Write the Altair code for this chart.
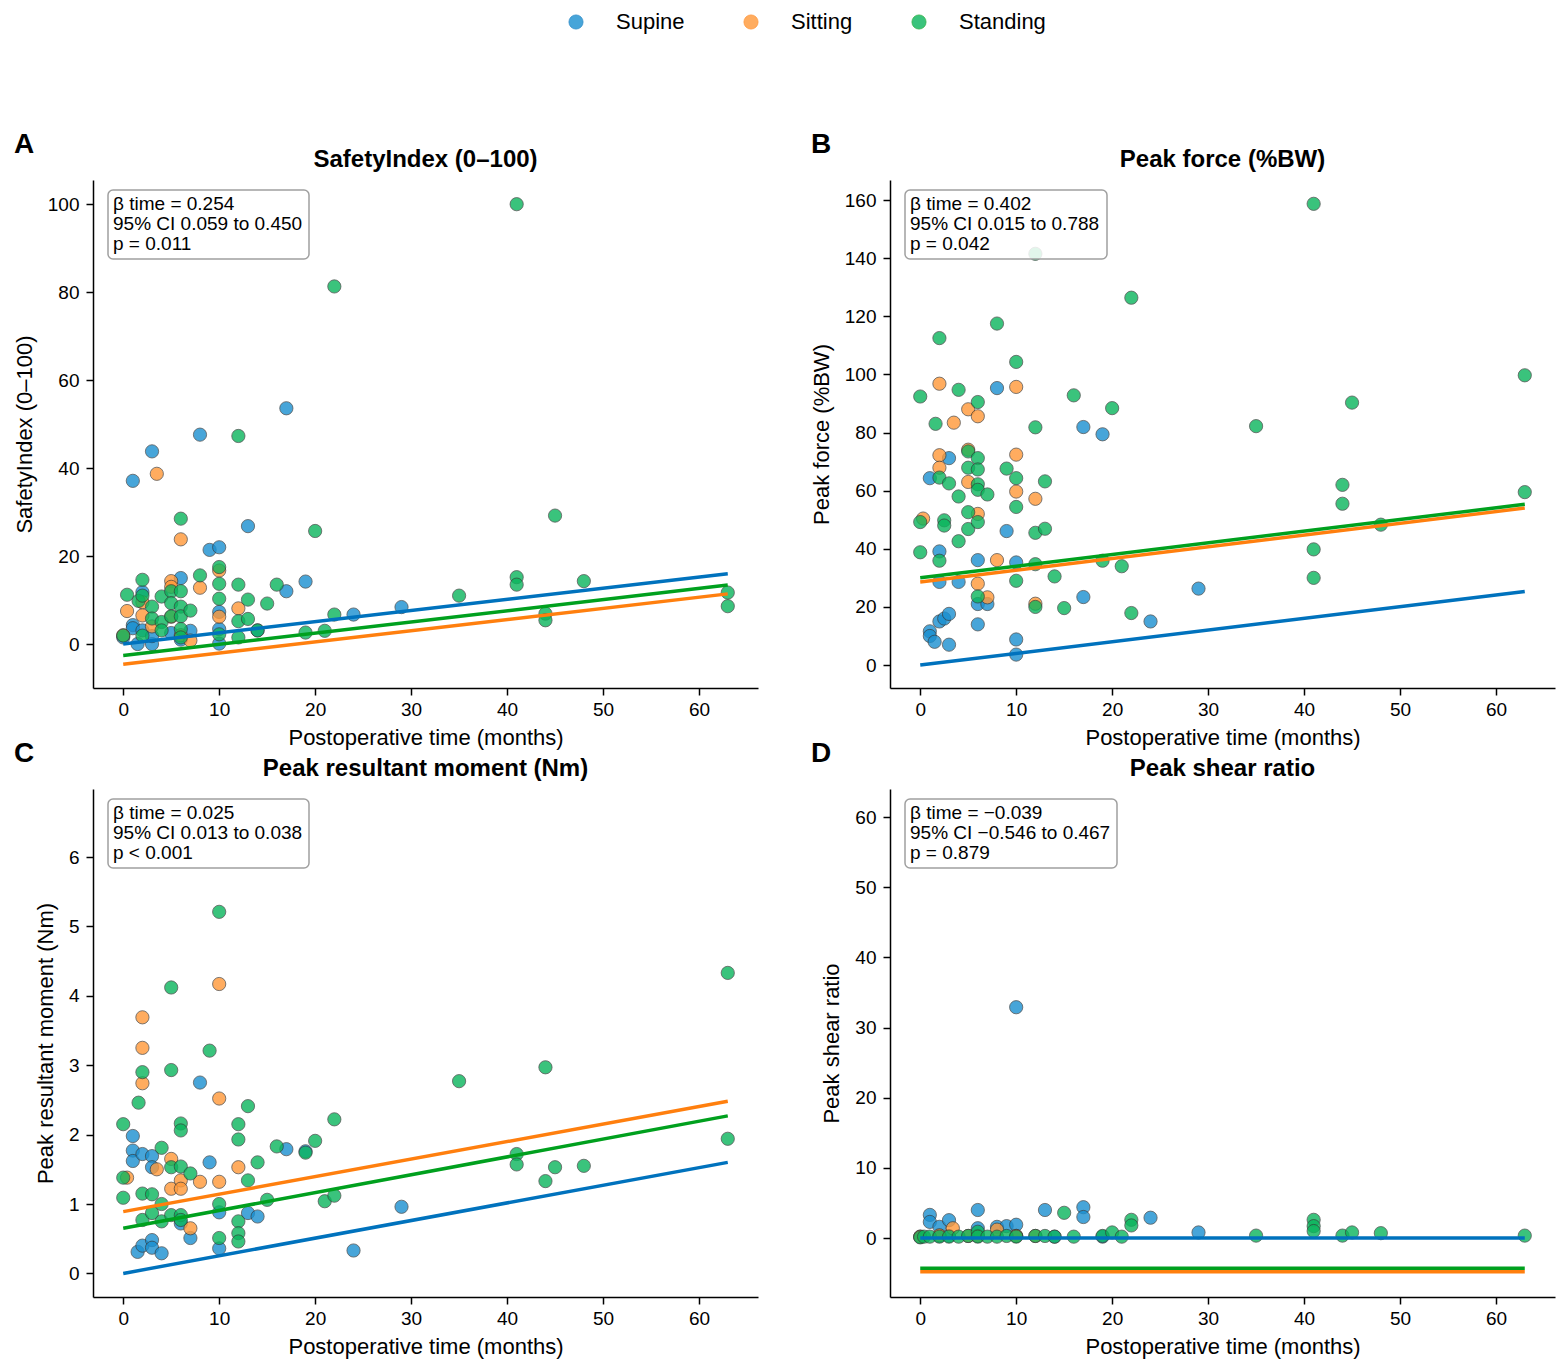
import altair as alt
import pandas as pd

FONT = "Liberation Sans"
POSTURES = ["Supine", "Sitting", "Standing"]
FILL_COLORS = ["#1a8fd0", "#ff9838", "#0ab55c"]
LINE_COLORS = ["#0072bd", "#ff7f0e", "#00a01e"]
FIT_MONTHS = [0, 63]
MONTH_TICKS = [0, 10, 20, 30, 40, 50, 60]

# --- A: SafetyIndex (0-100), (months, value)
SI_SUPINE = [(0, 1.5), (1, 37.1), (1, 4.3), (1, 3.6), (1.5, 0.0), (2, 11.8), (2, 3.1),
             (3, 43.8), (3, 0.0), (3, 1.8), (5, 2.5), (6, 15.0), (6, 1.0), (7, 3.0),
             (8, 47.6), (9, 21.4), (10, 22.0), (10, 7.3), (10, 3.4), (10, 0.1),
             (13, 26.8), (14, 3.1), (17, 53.6), (17, 12.0), (19, 14.2), (24, 6.7), (29, 8.4)]
SI_SITTING = [(0, 2.0), (0.4, 7.5), (2, 9.5), (2, 6.5), (3, 4.0), (3.5, 38.7), (5, 14.3),
              (5, 13.0), (5, 6.2), (6, 23.8), (6, 2.0), (7, 0.8), (8, 12.8), (10, 16.7),
              (10, 6.2), (12, 8.1)]
SI_STANDING = [(0, 1.9), (0.4, 11.2), (1.6, 9.8), (2, 14.6), (2, 11.0), (2, 1.9), (3, 8.5),
               (3, 5.8), (4, 10.8), (4, 5.0), (4, 3.1), (5, 12.0), (5, 9.3), (5, 6.3),
               (6, 28.5), (6, 12.0), (6, 8.5), (6, 6.3), (6, 3.4), (6, 1.5), (7, 7.6),
               (8, 15.6), (10, 17.5), (10, 13.7), (10, 10.3), (10, 2.2), (12, 47.3),
               (12, 13.5), (12, 5.2), (12, 1.5), (13, 10.1), (13, 5.7), (14, 3.1), (15, 9.2),
               (16, 13.5), (19, 2.6), (20, 25.7), (21, 3.0), (22, 81.3), (22, 6.7), (35, 11.0),
               (41, 100.0), (41, 15.2), (41, 13.5), (44, 6.9), (44, 5.4), (45, 29.2),
               (48, 14.3), (63, 11.7), (63, 8.6)]
SI_FIT_START = [0.0, -4.6, -2.6]
SI_FIT_END = [16.0, 11.4, 13.4]
SI_STATS = ["β time = 0.254", "95% CI 0.059 to 0.450", "p = 0.011"]

# --- B: Peak force (%BW)
PF_SUPINE = [(1, 64.3), (1, 11.6), (1, 10.0), (1.5, 8.0), (2, 39.1), (2, 28.6), (2, 15.0),
             (2.5, 16.0), (3, 71.2), (3, 17.6), (3, 7.0), (4, 28.6), (6, 36.1), (6, 21.0),
             (6, 14.0), (7, 21.0), (8, 95.3), (9, 46.1), (10, 35.3), (10, 8.8), (10, 3.6),
             (17, 81.9), (17, 23.4), (19, 79.4), (24, 15.0), (29, 26.3)]
PF_SITTING = [(0.3, 50.4), (2, 96.8), (2, 72.2), (2, 67.9), (3.5, 83.4), (5, 88.0), (5, 74.1),
              (5, 63.0), (6, 85.6), (6, 52.0), (6, 28.0), (7, 23.3), (8, 36.1), (10, 95.7),
              (10, 72.4), (10, 59.7), (12, 57.2), (12, 21.1)]
PF_STANDING = [(0, 92.4), (0, 49.2), (0, 38.8), (1.6, 83.0), (2, 112.5), (2, 64.5), (2, 35.9),
               (2.5, 49.8), (2.5, 48.0), (3, 62.5), (4, 94.7), (4, 58.0), (4, 42.6), (5, 73.5),
               (5, 67.9), (5, 52.6), (5, 46.8), (6, 90.5), (6, 71.2), (6, 67.3), (6, 62.2),
               (6, 60.3), (6, 49.2), (6, 23.6), (7, 58.7), (8, 117.5), (9, 67.6), (10, 104.3),
               (10, 64.3), (10, 54.4), (10, 29.0), (12, 141.5), (12, 81.8), (12, 45.5),
               (12, 34.7), (12, 20.0), (13, 63.2), (13, 46.9), (14, 30.5), (15, 19.6),
               (16, 92.8), (19, 35.9), (20, 88.4), (21, 34.0), (22, 126.4), (22, 17.9),
               (35, 82.2), (41, 158.7), (41, 39.8), (41, 30.0), (44, 62.0), (44, 55.5),
               (45, 90.3), (48, 48.3), (63, 99.7), (63, 59.5)]
PF_FIT_START = [0.0, 28.6, 30.0]
PF_FIT_END = [25.3, 54.0, 55.3]
PF_STATS = ["β time = 0.402", "95% CI 0.015 to 0.788", "p = 0.042"]

# --- C: Peak resultant moment (Nm)
RM_SUPINE = [(1, 1.98), (1, 1.77), (1, 1.62), (1.5, 0.31), (2, 1.72), (2, 0.40), (3, 1.69),
             (3, 1.53), (3, 0.48), (3, 0.37), (4, 0.29), (6, 0.72), (7, 0.51), (8, 2.75),
             (9, 1.60), (10, 0.88), (10, 0.36), (13, 0.87), (14, 0.82), (17, 1.79),
             (19, 1.76), (24, 0.33), (29, 0.96)]
RM_SITTING = [(0.4, 1.38), (2, 3.69), (2, 3.25), (2, 2.74), (3.5, 1.50), (5, 1.65), (5, 1.22),
              (6, 1.34), (6, 1.22), (7, 0.65), (8, 1.32), (10, 4.17), (10, 2.52), (10, 1.32),
              (12, 1.53)]
RM_STANDING = [(0, 2.15), (0, 1.38), (0, 1.09), (1.6, 2.46), (2, 2.90), (2, 1.15), (2, 0.77),
               (3, 1.14), (3, 0.87), (4, 1.81), (4, 1.00), (4, 0.75), (5, 4.12), (5, 2.93),
               (5, 1.53), (5, 0.84), (6, 2.16), (6, 2.06), (6, 1.54), (6, 0.84), (6, 0.77),
               (7, 1.44), (9, 3.21), (10, 5.21), (10, 1.00), (10, 0.51), (12, 2.15),
               (12, 1.93), (12, 0.75), (12, 0.58), (12, 0.46), (13, 2.41), (13, 1.34),
               (14, 1.60), (15, 1.06), (16, 1.83), (19, 1.74), (20, 1.91), (21, 1.04),
               (22, 2.22), (22, 1.12), (35, 2.77), (41, 1.72), (41, 1.57), (44, 2.97),
               (44, 1.33), (45, 1.53), (48, 1.55), (63, 4.33), (63, 1.94)]
RM_FIT_START = [0.0, 0.89, 0.65]
RM_FIT_END = [1.60, 2.48, 2.27]
RM_STATS = ["β time = 0.025", "95% CI 0.013 to 0.038", "p < 0.001"]

# --- D: Peak shear ratio
SR_SUPINE = [(0, 0.2), (1, 3.3), (1, 2.3), (2, 1.6), (2, 0.3), (3, 2.55), (3, 0.3), (6, 4.0),
             (6, 1.4), (6, 0.3), (8, 1.6), (9, 1.7), (10, 32.9), (10, 1.9), (10, 0.3),
             (13, 4.0), (14, 0.2), (17, 4.4), (17, 3.0), (19, 0.2), (24, 2.9), (29, 0.8)]
SR_SITTING = [(0, 0.2), (2, 0.4), (3.4, 1.4), (5, 0.3), (6, 0.3), (8, 1.2), (10, 0.3), (12, 0.3)]
SR_STANDING = [(0, 0.1), (0.4, 0.2), (1, 0.2), (2, 0.2), (3, 0.2), (4, 0.2), (5, 0.3), (6, 0.9),
               (6, 0.2), (7, 0.2), (8, 0.2), (9, 0.3), (10, 0.2), (12, 0.3), (13, 0.3),
               (14, 0.2), (15, 3.6), (16, 0.2), (19, 0.3), (20, 0.8), (21, 0.2), (22, 2.6),
               (22, 1.8), (35, 0.35), (41, 2.6), (41, 1.7), (41, 1.0), (44, 0.35), (45, 0.8),
               (48, 0.7), (63, 0.35)]
SR_FIT_START = [0.0, -4.8, -4.3]
SR_FIT_END = [0.0, -4.8, -4.3]
SR_STATS = ["β time = −0.039", "95% CI −0.546 to 0.467", "p = 0.879"]

W, H = 665, 508


def points_frame(*series):
    rows = []
    for posture, pts in zip(POSTURES, series):
        rows += [{"t": t, "v": v, "posture": posture} for t, v in pts]
    return pd.DataFrame(rows)


def fit_frame(start, end):
    rows = []
    for posture, a, b in zip(POSTURES, start, end):
        rows.append({"t": FIT_MONTHS[0], "v": a, "posture": posture})
        rows.append({"t": FIT_MONTHS[1], "v": b, "posture": posture})
    return pd.DataFrame(rows)


def panel(letter, title, ytitle, pts, fits, ydomain, yticks, stats, box_w):
    x = alt.X("t:Q", scale=alt.Scale(domain=[-3.15, 66.15], nice=False, zero=False),
              axis=alt.Axis(values=MONTH_TICKS, title="Postoperative time (months)"))
    y = alt.Y("v:Q", scale=alt.Scale(domain=ydomain, nice=False, zero=False),
              axis=alt.Axis(values=yticks, title=ytitle))
    dots = alt.Chart(pts).mark_circle(size=175, opacity=0.8, stroke="#333333", strokeWidth=0.8).encode(
        x=x, y=y,
        fill=alt.Fill("posture:N", scale=alt.Scale(domain=POSTURES, range=FILL_COLORS),
                      legend=alt.Legend(title=None, orient="none", legendX=472, legendY=-169,
                                        direction="horizontal", columns=3, symbolType="circle",
                                        symbolSize=200, symbolOpacity=0.8, symbolStrokeColor="#333333",
                                        symbolStrokeWidth=0.8, labelFontSize=22, labelOffset=29,
                                        columnPadding=55, labelFont=FONT)),
    )
    lines = alt.Chart(fits).mark_line(strokeWidth=3.5).encode(
        x=x, y=y,
        stroke=alt.Stroke("posture:N", scale=alt.Scale(domain=POSTURES, range=LINE_COLORS), legend=None),
    )
    one = pd.DataFrame({"k": [0]})
    box = alt.Chart(one).mark_rect(fill="white", fillOpacity=0.85, stroke="#a0a0a0", strokeWidth=1.5,
                                   cornerRadius=5).encode(
        x=alt.value(15), x2=alt.value(15 + box_w), y=alt.value(10), y2=alt.value(79))
    note = alt.Chart(one).mark_text(align="left", baseline="middle", fontSize=19, lineHeight=20,
                                    lineBreak="\n").encode(
        x=alt.value(20), y=alt.value(24), text=alt.value("\n".join(stats)))
    head = alt.Chart(one).mark_text(align="left", baseline="middle", fontSize=28, fontWeight="bold").encode(
        x=alt.value(-79), y=alt.value(-35), text=alt.value(letter))
    name = alt.Chart(one).mark_text(align="center", baseline="middle", fontSize=24, fontWeight="bold").encode(
        x=alt.value(W / 2), y=alt.value(-20), text=alt.value(title))
    return alt.layer(dots, lines, box, note, head, name).properties(width=W, height=H)


pA = panel("A", "SafetyIndex (0–100)", "SafetyIndex (0–100)",
           points_frame(SI_SUPINE, SI_SITTING, SI_STANDING), fit_frame(SI_FIT_START, SI_FIT_END),
           [-10, 105.5], [0, 20, 40, 60, 80, 100], SI_STATS, 201)
pB = panel("B", "Peak force (%BW)", "Peak force (%BW)",
           points_frame(PF_SUPINE, PF_SITTING, PF_STANDING), fit_frame(PF_FIT_START, PF_FIT_END),
           [-7.9, 166.9], [0, 20, 40, 60, 80, 100, 120, 140, 160], PF_STATS, 202)
pC = panel("C", "Peak resultant moment (Nm)", "Peak resultant moment (Nm)",
           points_frame(RM_SUPINE, RM_SITTING, RM_STANDING), fit_frame(RM_FIT_START, RM_FIT_END),
           [-0.34, 6.98], [0, 1, 2, 3, 4, 5, 6], RM_STATS, 201)
pD = panel("D", "Peak shear ratio", "Peak shear ratio",
           points_frame(SR_SUPINE, SR_SITTING, SR_STANDING), fit_frame(SR_FIT_START, SR_FIT_END),
           [-8.4, 64.0], [0, 10, 20, 30, 40, 50, 60], SR_STATS, 212)

chart = alt.concat(pA, pB, pC, pD, columns=2, spacing={"row": 101, "column": 132}, bounds="flush").properties(
    padding={"left": 5, "top": 3, "right": 5, "bottom": 5}
).configure_view(stroke=None).configure_axis(
    grid=False, domainColor="black", domainWidth=1.5, tickColor="black", tickWidth=1.5, tickSize=7,
    labelFont=FONT, labelFontSize=19, labelColor="black",
    titleFont=FONT, titleFontSize=22, titleFontWeight="normal", titleColor="black",
).configure_axisX(labelPadding=5, titlePadding=8).configure_axisY(labelPadding=7, titlePadding=11
).configure_text(font=FONT, color="black")

chart.save("out.html", embed_options={"renderer": "svg", "actions": False})
